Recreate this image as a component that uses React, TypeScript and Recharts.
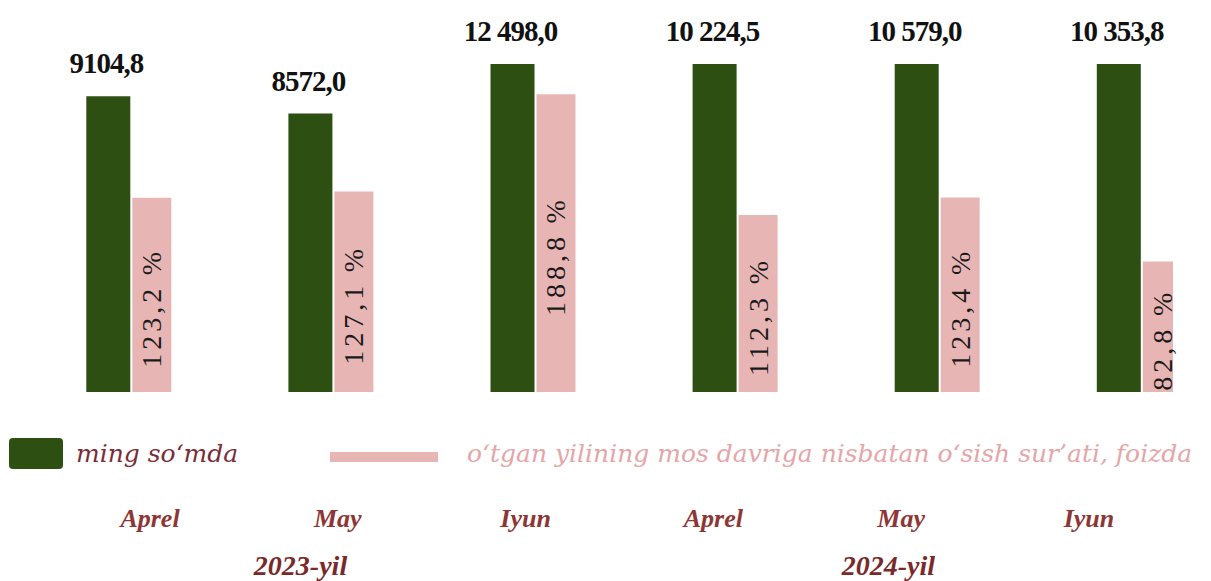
import React from "react";
import { Bar, BarChart, LabelList, Legend, Rectangle, XAxis, YAxis } from "recharts";

const months = ["Aprel", "May", "Iyun", "Aprel", "May", "Iyun"];
const years = ["2023-yil", "2023-yil", "2023-yil", "2024-yil", "2024-yil", "2024-yil"];
const amountThousandSom = [9104.8, 8572.0, 12498.0, 10224.5, 10579.0, 10353.8];
const growthPct = [123.2, 127.1, 188.8, 112.3, 123.4, 82.8];
const seriesNames = [
  "ming so‘mda",
  "o‘tgan yilining mos davriga nisbatan o‘sish sur’ati, foizda",
];

const data = months.map((month, i) => ({
  month,
  year: years[i],
  amount: amountThousandSom[i],
  growth: growthPct[i],
}));

const W = 1211;
const H = 581;
const PLOT_TOP = 64;
const PLOT_RIGHT_MARGIN = 38;
const GREEN = "#2d4f12";
const PINK = "#e8b5b5";
const SERIF = "'Liberation Serif', 'Times New Roman', serif";
const LEGEND_FONT = "'DejaVu Serif', serif";

function fmtAmount(v: number) {
  const [int, dec] = v.toFixed(1).split(".");
  const intPart = int.length > 4 ? int.replace(/\B(?=(\d{3})+(?!\d))/g, " ") : int;
  return `${intPart},${dec}`;
}

function fmtPct(v: number) {
  return `${v.toFixed(1).replace(".", ",")}\u2009%`;
}

// the original cuts the last pink bar at the right edge of the plot
function PinkBarShape(props: any) {
  const maxRight = W - PLOT_RIGHT_MARGIN;
  const w = Math.max(0, Math.min(Number(props.width), maxRight - Number(props.x)));
  return <Rectangle {...props} width={w} />;
}

function AmountLabel(props: any) {
  const x = Number(props.x);
  const y = Math.max(Number(props.y), PLOT_TOP);
  const w = Number(props.width);
  return (
    <text
      x={x + w / 2 - 2}
      y={y - 23}
      textAnchor="middle"
      fontFamily={SERIF}
      fontWeight="bold"
      fontSize={29}
      letterSpacing={-1}
      fill="#111"
    >
      {fmtAmount(Number(props.value))}
    </text>
  );
}

function GrowthLabel(props: any) {
  const x = Number(props.x);
  const y = Number(props.y);
  const w = Number(props.width);
  const h = Number(props.height);
  const cx = x + w / 2 + 9.5;
  const cy = y + h / 2 + 13;
  const id = `growth-clip-${props.index}`;
  return (
    <g>
      <defs>
        <clipPath id={id}>
          <rect x={0} y={0} width={W} height={y + h} />
        </clipPath>
      </defs>
      <g clipPath={`url(#${id})`}>
        <text
          x={cx}
          y={cy}
          transform={`rotate(-90 ${cx} ${cy})`}
          textAnchor="middle"
          fontFamily={SERIF}
          fontSize={28}
          letterSpacing={4}
          fill="#1a1a1a"
        >
          {fmtPct(Number(props.value))}
        </text>
      </g>
    </g>
  );
}

function MonthTick({ x, y, payload }: any) {
  return (
    <text
      x={x}
      y={y}
      dy={135}
      textAnchor="middle"
      fontFamily={SERIF}
      fontStyle="italic"
      fontWeight="bold"
      fontSize={26}
      fill="#8e3535"
    >
      {payload.value}
    </text>
  );
}

function YearTick({ x, y, payload }: any) {
  return (
    <text
      x={x}
      y={y}
      dy={43}
      textAnchor="middle"
      fontFamily={SERIF}
      fontStyle="italic"
      fontWeight="bold"
      fontSize={28}
      fill="#7a2a2a"
    >
      {payload.value}
    </text>
  );
}

function LegendContent({ payload }: any) {
  const items = payload ?? [];
  return (
    <svg width={W} height={60} style={{ display: "block" }}>
      {items.map((entry: any, i: number) =>
        i === 0 ? (
          <g key={i}>
            <rect x={9} y={13} width={54} height={31} rx={4} fill={entry.color} />
            <text x={76} y={37} fontFamily={LEGEND_FONT} fontStyle="italic" fontSize={25} fill="#7b2d37">
              {entry.value}
            </text>
          </g>
        ) : (
          <g key={i}>
            <rect x={330} y={27} width={108} height={10} fill={entry.color} />
            <text x={467} y={37} fontFamily={LEGEND_FONT} fontStyle="italic" fontSize={25} fill="#e4a6a8">
              {entry.value}
            </text>
          </g>
        )
      )}
    </svg>
  );
}

export default function App() {
  return (
    <div style={{ marginLeft: -8, marginTop: -8, width: W, height: H, overflow: "hidden", background: "#fff" }}>
      <BarChart
        width={W}
        height={H}
        data={data}
        barGap={2}
        margin={{ top: PLOT_TOP, right: PLOT_RIGHT_MARGIN, left: 0, bottom: 0 }}
      >
        <XAxis
          xAxisId="main"
          dataKey="month"
          hide
          height={0}
          allowDataOverflow
          padding={{ left: 27.3, right: -66.9 }}
        />
        <XAxis
          xAxisId="month"
          dataKey="month"
          height={140}
          axisLine={false}
          tickLine={false}
          tickSize={0}
          tickMargin={0}
          interval={0}
          padding={{ left: 56.1, right: -9.9 }}
          tick={<MonthTick />}
        />
        <XAxis
          xAxisId="year"
          dataKey="year"
          allowDuplicatedCategory={false}
          height={49}
          axisLine={false}
          tickLine={false}
          tickSize={0}
          tickMargin={0}
          interval={0}
          padding={{ left: 6.6, right: -9.2 }}
          tick={<YearTick />}
        />
        <YAxis yAxisId="left" hide domain={[0, 10100]} allowDataOverflow />
        <YAxis yAxisId="right" orientation="right" hide domain={[0, 208]} allowDataOverflow />
        <Legend
          layout="vertical"
          verticalAlign="middle"
          align="center"
          wrapperStyle={{ left: 0, top: 425, width: W, height: 60 }}
          content={<LegendContent />}
        />
        <Bar
          xAxisId="main"
          yAxisId="left"
          dataKey="amount"
          name={seriesNames[0]}
          fill={GREEN}
          barSize={44}
          isAnimationActive={false}
        >
          <LabelList dataKey="amount" content={<AmountLabel />} />
        </Bar>
        <Bar
          xAxisId="main"
          yAxisId="right"
          dataKey="growth"
          name={seriesNames[1]}
          fill={PINK}
          barSize={39}
          shape={<PinkBarShape />}
          isAnimationActive={false}
        >
          <LabelList dataKey="growth" content={<GrowthLabel />} />
        </Bar>
      </BarChart>
    </div>
  );
}
